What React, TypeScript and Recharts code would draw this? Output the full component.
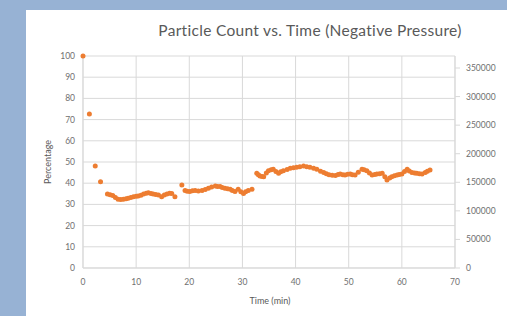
import React from "react";
import { ScatterChart, Scatter, XAxis, YAxis, CartesianGrid } from "recharts";

const times = [0, 1.2, 2.3, 3.3, 4.6, 5.1, 5.6, 6.1, 6.6, 7.1, 7.6, 8.1, 8.5, 9.0, 9.5, 10.0, 10.4, 10.9, 11.4, 11.9, 12.3, 12.8, 13.2, 13.7, 14.2, 14.8, 15.3, 15.8, 16.3, 16.7, 17.3, 18.6, 19.2, 19.6, 20.1, 20.6, 21.1, 21.7, 22.4, 23.0, 23.6, 24.2, 24.9, 25.3, 25.8, 26.2, 26.7, 27.2, 27.7, 28.1, 28.6, 29.2, 29.7, 30.2, 30.6, 31.1, 31.8, 32.7, 33.0, 33.3, 33.7, 34.0, 34.5, 34.9, 35.4, 35.8, 36.3, 36.8, 37.2, 37.7, 38.4, 39.0, 39.6, 40.2, 40.8, 41.5, 42.1, 42.7, 43.4, 44.0, 44.7, 45.3, 45.8, 46.3, 46.9, 47.5, 48.0, 48.4, 48.9, 49.3, 49.8, 50.3, 50.7, 51.2, 51.8, 52.5, 52.9, 53.4, 53.9, 54.4, 54.9, 55.3, 55.8, 56.3, 56.8, 57.2, 57.7, 58.1, 58.6, 59.1, 59.5, 60.0, 60.5, 61.0, 61.4, 61.9, 62.4, 62.8, 63.3, 63.8, 64.4, 64.8, 65.3];
const percents = [100, 72.6, 48.1, 40.7, 34.9, 34.6, 34.2, 33.2, 32.4, 32.3, 32.4, 32.7, 32.9, 33.2, 33.6, 33.8, 34.0, 34.3, 34.9, 35.3, 35.5, 35.1, 34.9, 34.7, 34.4, 33.6, 34.4, 34.9, 35.3, 35.2, 33.6, 39.2, 36.5, 36.2, 36.1, 36.4, 36.5, 36.3, 36.5, 37.0, 37.6, 38.2, 38.7, 38.5, 38.4, 38.0, 37.6, 37.4, 37.1, 36.6, 36.1, 37.1, 36.0, 35.2, 36.0, 36.5, 37.1, 44.7, 44.0, 43.4, 43.2, 43.1, 44.8, 45.9, 46.3, 46.6, 45.5, 44.7, 45.4, 45.9, 46.5, 47.0, 47.3, 47.5, 47.8, 48.1, 47.8, 47.5, 47.1, 46.6, 45.6, 45.0, 44.5, 44.0, 43.8, 43.6, 44.1, 44.3, 44.0, 43.9, 44.2, 44.3, 44.0, 43.9, 45.2, 46.6, 46.3, 45.9, 44.8, 43.9, 44.1, 44.3, 44.5, 44.7, 43.0, 41.5, 42.4, 43.1, 43.5, 43.9, 44.1, 44.3, 45.5, 46.6, 45.8, 45.0, 44.8, 44.7, 44.5, 44.3, 45.0, 45.6, 46.2];

const xTicks = [0, 10, 20, 30, 40, 50, 60, 70];
const leftTicks = [0, 10, 20, 30, 40, 50, 60, 70, 80, 90, 100];
const rightTicks = [0, 50000, 100000, 150000, 200000, 250000, 300000, 350000];

const title = "Particle Count vs. Time (Negative Pressure)";
const xTitle = "Time (min)";
const yTitle = "Percentage";

const data = times.map((t, i) => ({ t, p: percents[i] }));

const FONT = "Lato, 'Open Sans', sans-serif";
const TEXT = "#595959";
const TICK = "#6f6f6f";
const GRID = "#d9d9d9";
const ORANGE = "#ED7D31";

const Dot = (props: any) => {
  const { cx, cy } = props;
  if (cx == null || cy == null) return null;
  return <circle cx={cx} cy={cy} r={2.5} fill={ORANGE} />;
};

export default function App() {
  return (
    <div
      style={{
        position: "absolute",
        left: 0,
        top: 0,
        width: 507,
        height: 316,
        background: "#97b2d4",
        overflow: "hidden",
        fontFamily: FONT,
      }}
    >
      <div style={{ position: "absolute", left: 26, top: 10, width: 481, height: 306, background: "#ffffff" }} />
      <div
        style={{
          position: "absolute",
          left: 60,
          width: 500,
          top: 21,
          textAlign: "center",
          fontSize: 15.5,
          letterSpacing: 0.3,
          lineHeight: "18px",
          color: TEXT,
          whiteSpace: "nowrap",
        }}
      >
        {title}
      </div>
      <div
        style={{
          position: "absolute",
          left: 220,
          width: 100,
          top: 295,
          textAlign: "center",
          fontSize: 9,
          lineHeight: "12px",
          color: TEXT,
        }}
      >
        {xTitle}
      </div>
      <div
        style={{
          position: "absolute",
          left: 48 - 40,
          top: 162 - 6,
          width: 80,
          textAlign: "center",
          fontSize: 9,
          lineHeight: "12px",
          color: TEXT,
          transform: "rotate(-90deg)",
        }}
      >
        {yTitle}
      </div>
      <div style={{ position: "absolute", left: 0, top: 0 }}>
        <ScatterChart width={507} height={316} margin={{ top: 56, right: 2, bottom: 18, left: 43 }}>
          <CartesianGrid
            yAxisId="left"
            stroke={GRID}
            strokeWidth={1}
            horizontalValues={leftTicks}
            verticalValues={xTicks}
          />
          <XAxis
            type="number"
            dataKey="t"
            domain={[0, 70]}
            ticks={xTicks}
            height={30}
            axisLine={{ stroke: GRID }}
            tickLine={false}
            tickMargin={5}
            tick={{ fill: TICK, fontSize: 8.5, fontFamily: FONT }}
            interval={0}
          />
          <YAxis
            yAxisId="left"
            type="number"
            dataKey="p"
            domain={[0, 100]}
            ticks={leftTicks}
            width={40}
            axisLine={{ stroke: GRID }}
            tickLine={false}
            tick={{ fill: TICK, fontSize: 8.5, fontFamily: FONT }}
            interval={0}
          />
          <YAxis
            yAxisId="right"
            orientation="right"
            type="number"
            domain={[0, 371000]}
            ticks={rightTicks}
            width={50}
            allowDataOverflow
            axisLine={{ stroke: GRID }}
            tickLine={{ stroke: GRID }}
            tickSize={5}
            tickMargin={6}
            tick={{ fill: TICK, fontSize: 8.5, fontFamily: FONT }}
            interval={0}
          />
          <Scatter yAxisId="left" data={data} shape={<Dot />} isAnimationActive={false} />
        </ScatterChart>
      </div>
    </div>
  );
}
